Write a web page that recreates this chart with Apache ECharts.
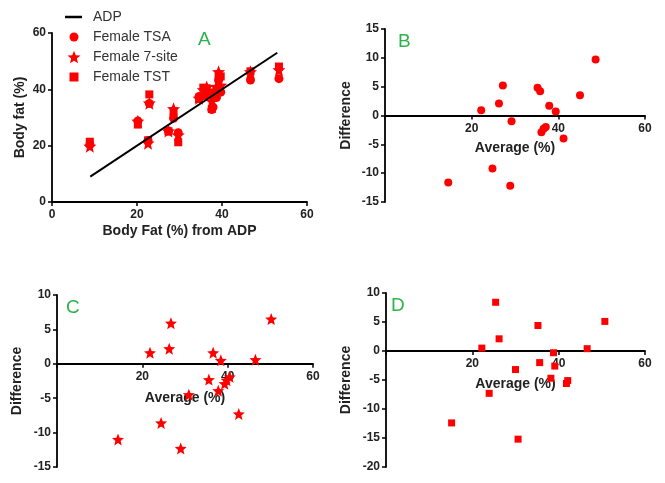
<!DOCTYPE html>
<html>
<head>
<meta charset="utf-8">
<script src="https://cdn.jsdelivr.net/npm/echarts@6/dist/echarts.min.js"></script>
<style>html,body{margin:0;padding:0;background:#fff;}#c{width:665px;height:483px;}</style>
</head>
<body>
<div id="c"></div>
<script>
// Panel A: body fat by method vs ADP
const aADP = [8.9, 20.2, 22.6, 22.9, 27.4, 28.6, 29.7, 34.6, 35.6, 36.4, 37.6, 37.9, 38.7, 39.2, 39.7, 46.7, 53.4];
const aTSA = [20.4, 28.8, 21.8, 35.0, 25.2, 29.7, 24.6, 37.5, 37.8, 38.1, 32.8, 33.7, 37.1, 43.2, 39.0, 43.3, 43.8];
const a7site = [19.8, 28.7, 20.9, 35.1, 25.2, 33.1, 23.8, 36.8, 39.8, 40.8, 35.8, 38.2, 41.0, 46.2, 41.4, 46.2, 46.9];
const aTST = [21.4, 27.5, 21.9, 38.2, 25.1, 31.6, 21.2, 36.6, 40.6, 40.4, 33.0, 38.9, 39.5, 44.6, 44.6, 46.4, 48.1];
const adpLineX = [9, 53];
const adpLineY = [9, 53];
// Panel B: TSA Bland-Altman
const bAvg = [14.6, 22.2, 24.8, 26.3, 27.2, 29.2, 28.9, 35.2, 35.8, 36.1, 36.6, 37.1, 37.9, 39.4, 41.2, 45.0, 48.6];
const bDiff = [-11.6, 0.9, -9.2, 2.1, 5.2, -1.0, -12.2, 4.8, 4.2, -2.9, -2.3, -2.0, 1.7, 0.7, -4.0, 3.5, 9.7];
// Panel C: 7-site Bland-Altman
const cAvg = [14.3, 21.8, 24.4, 26.3, 26.7, 29.0, 30.9, 35.6, 36.6, 37.8, 38.4, 39.3, 39.8, 40.5, 42.6, 46.5, 50.2];
const cDiff = [-11.0, 1.6, -8.6, 2.2, 5.9, -12.3, -4.5, -2.3, 1.6, -3.9, 0.5, -2.9, -2.4, -1.9, -7.3, 0.6, 6.5];
// Panel D: TST Bland-Altman
const dAvg = [15.2, 22.2, 23.9, 25.4, 26.2, 30.0, 30.6, 35.2, 35.6, 38.2, 38.8, 39.1, 41.8, 42.1, 46.6, 50.7];
const dDiff = [-12.4, 0.5, -7.3, 8.4, 2.1, -3.2, -15.2, 4.4, -2.0, -4.7, -0.3, -2.6, -5.6, -5.1, 0.4, 5.1];

const FONT = 'Liberation Sans, Arial, sans-serif';
const RED = '#ff0000';
const STAR = 'path://M50,0L62.93,32.2L97.55,34.55L70.92,56.8L79.39,90.45L50,72L20.61,90.45L29.08,56.8L2.45,34.55L37.07,32.2Z';
const zip = (xs, ys) => xs.map((x, i) => [x, ys[i]]);

const grids = [
  { left: 52, top: 33, width: 255, height: 169 },
  { left: 385, top: 29, width: 260, height: 173 },
  { left: 57, top: 295, width: 256, height: 172 },
  { left: 386, top: 293, width: 259, height: 174 }
];
const yRanges = [[0, 60, 20], [-15, 15, 5], [-15, 10, 5], [-20, 10, 5]];
// offset (px) that lifts the x axis from the grid bottom to y = 0
const zeroOffset = gi => {
  const r = yRanges[gi];
  return -grids[gi].height * (0 - r[0]) / (r[1] - r[0]);
};

function xAx(gi, name, gap, hideZero) {
  return {
    gridIndex: gi, type: 'value', min: 0, max: 60, interval: 20,
    position: 'bottom', offset: zeroOffset(gi),
    name: name, nameLocation: 'middle', nameGap: gap,
    nameTextStyle: { fontFamily: FONT, fontSize: 14, fontWeight: 'bold', color: '#222' },
    axisLine: { show: true, onZero: false, lineStyle: { color: '#000', width: 1.8 } },
    axisTick: { show: true, length: 4, lineStyle: { color: '#000', width: 1.5 } },
    axisLabel: { fontFamily: FONT, fontSize: 12, fontWeight: 'bold', color: '#222', margin: 7,
      formatter: v => (hideZero && v === 0) ? '' : String(v) },
    splitLine: { show: false }
  };
}
function yAx(gi, name, gap) {
  const r = yRanges[gi];
  return {
    gridIndex: gi, type: 'value', min: r[0], max: r[1], interval: r[2],
    name: name, nameLocation: 'middle', nameGap: gap,
    nameTextStyle: { fontFamily: FONT, fontSize: 14, fontWeight: 'bold', color: '#222' },
    axisLine: { show: true, onZero: false, lineStyle: { color: '#000', width: 1.8 } },
    axisTick: { show: true, length: 4, lineStyle: { color: '#000', width: 1.5 } },
    axisLabel: { fontFamily: FONT, fontSize: 12, fontWeight: 'bold', color: '#222', margin: 6 },
    splitLine: { show: false }
  };
}
function leg(name, icon, top, w, h, centerX) {
  const left = centerX - w / 2;
  const pad = 93 - (left + w + 5);
  return {
    data: [{ name: name, icon: icon }], left: left, top: top, orient: 'vertical',
    itemWidth: w, itemHeight: h, padding: 0,
    textStyle: { fontFamily: FONT, fontSize: 14, color: '#333', padding: [0, 0, 0, pad] },
    selectedMode: false
  };
}

const chart = echarts.init(document.getElementById('c'), null, { renderer: 'canvas' });
chart.setOption({
  animation: false,
  backgroundColor: '#fff',
  grid: grids,
  xAxis: [
    xAx(0, 'Body Fat (%) from ADP', 22, false),
    xAx(1, 'Average (%)', 26, true),
    xAx(2, 'Average (%)', 27, true),
    xAx(3, 'Average (%)', 26, true)
  ],
  yAxis: [
    yAx(0, 'Body fat (%)', 25),
    yAx(1, 'Difference', 32),
    yAx(2, 'Difference', 33),
    yAx(3, 'Difference', 33)
  ],
  legend: [
    leg('ADP', 'rect', 10, 17, 2.5, 73.5),
    leg('Female TSA', 'circle', 30, 9, 9, 74),
    leg('Female 7-site', STAR, 50, 13, 13, 74),
    leg('Female TST', 'rect', 70, 9, 9, 74)
  ],
  graphic: [
    { type: 'text', left: 198, top: 30, style: { text: 'A', fontFamily: FONT, fontSize: 19, fill: '#2db34a' } },
    { type: 'text', left: 398, top: 32, style: { text: 'B', fontFamily: FONT, fontSize: 19, fill: '#2db34a' } },
    { type: 'text', left: 66, top: 298, style: { text: 'C', fontFamily: FONT, fontSize: 19, fill: '#2db34a' } },
    { type: 'text', left: 391, top: 296, style: { text: 'D', fontFamily: FONT, fontSize: 19, fill: '#2db34a' } }
  ],
  series: [
    { name: 'ADP', type: 'line', xAxisIndex: 0, yAxisIndex: 0, data: zip(adpLineX, adpLineY),
      symbol: 'none', lineStyle: { color: '#000', width: 2 }, itemStyle: { color: '#000' } },
    { name: 'Female TSA', type: 'scatter', xAxisIndex: 0, yAxisIndex: 0, data: zip(aADP, aTSA),
      symbol: 'circle', symbolSize: 9, itemStyle: { color: RED, opacity: 1 } },
    { name: 'Female 7-site', type: 'scatter', xAxisIndex: 0, yAxisIndex: 0, data: zip(aADP, a7site),
      symbol: STAR, symbolSize: 13, itemStyle: { color: RED, opacity: 1 } },
    { name: 'Female TST', type: 'scatter', xAxisIndex: 0, yAxisIndex: 0, data: zip(aADP, aTST),
      symbol: 'rect', symbolSize: 8, itemStyle: { color: RED, opacity: 1 } },
    { name: 'B TSA', type: 'scatter', xAxisIndex: 1, yAxisIndex: 1, data: zip(bAvg, bDiff),
      symbol: 'circle', symbolSize: 8, itemStyle: { color: RED, opacity: 1 } },
    { name: 'C 7-site', type: 'scatter', xAxisIndex: 2, yAxisIndex: 2, data: zip(cAvg, cDiff),
      symbol: STAR, symbolSize: 12, itemStyle: { color: RED, opacity: 1 } },
    { name: 'D TST', type: 'scatter', xAxisIndex: 3, yAxisIndex: 3, data: zip(dAvg, dDiff),
      symbol: 'rect', symbolSize: 7, itemStyle: { color: RED, opacity: 1 } }
  ]
});
</script>
</body>
</html>
